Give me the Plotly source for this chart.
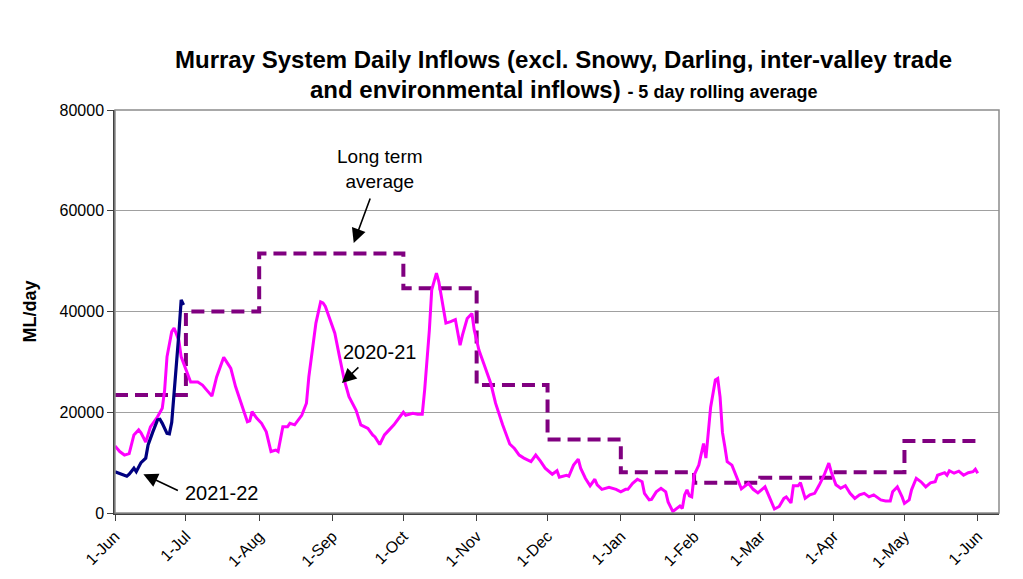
import pandas as pd
import plotly.graph_objects as go

season_start = "2020-06-01"

# 2020-21 five-day rolling average inflows (day offset from 1-Jun, ML/day)
pink_days = [0, 2, 4, 6, 8, 10, 11, 13, 15, 18, 20, 21, 22, 24, 25, 27, 28, 30, 32, 35,
             37, 41, 43, 46, 49, 51, 54, 56, 57, 58, 60, 62, 64, 66, 68, 69, 71, 73, 74, 76,
             79, 81, 82, 85, 87, 88, 89, 91, 93, 95, 97, 99, 102, 104, 107, 109, 110, 112, 114, 116,
             118, 121, 122, 123, 126, 128, 130, 131, 133, 134, 136, 137, 139, 140, 142, 144, 146, 147, 149, 151,
             152, 154, 156, 159, 161, 164, 167, 169, 171, 173, 176, 178, 180, 182, 185, 187, 188, 191, 192, 194,
             196, 197, 199, 201, 203, 204, 206, 209, 212, 214, 216, 217, 219, 221, 223, 224, 226, 227, 229, 231,
             233, 234, 236, 238, 239, 240, 241, 242, 243, 244, 245, 247, 249, 250, 252, 254, 255, 256, 257, 258,
             259, 261, 263, 265, 268, 270, 272, 275, 277, 279, 281, 283, 284, 286, 287, 289, 290, 292, 294, 296,
             298, 300, 302, 303, 305, 307, 309, 311, 313, 315, 317, 319, 321, 324, 326, 328, 329, 331, 333, 334,
             336, 337, 339, 341, 343, 345, 347, 348, 351, 352, 353, 355, 357, 359, 361, 363, 364, 365]
pink_vals = [13300, 12200, 11500, 11800, 15500, 16500, 15900, 14100, 17100, 19100, 20800, 24400, 31000, 36000, 36700, 34300, 31000, 28400, 26000, 26000,
             25400, 23200, 27000, 30900, 28700, 25100, 20800, 18100, 18300, 20100, 18800, 17800, 16100, 12200, 12500, 12200, 17100, 17100, 17800, 17500,
             19400, 21800, 27000, 37700, 41900, 41700, 41000, 38500, 35700, 31000, 26400, 23100, 20400, 17500, 16800, 15500, 15100, 13600, 15500, 16500,
             17500, 19400, 20000, 19400, 19800, 19600, 19600, 24400, 36300, 44300, 47600, 45900, 40300, 37700, 38000, 38400, 33300, 35300, 38600, 39600,
             36300, 32300, 29700, 25700, 21800, 17500, 13700, 12800, 11500, 10900, 10200, 11500, 10300, 8900, 7700, 8400, 7100, 7500, 7300, 9500,
             10700, 8900, 6900, 5400, 6700, 5600, 4700, 5100, 4700, 4200, 4700, 4700, 5900, 6700, 6200, 3900, 2600, 2700, 4200, 4900,
             4200, 2200, 300, 1100, 1400, 900, 3600, 4600, 3400, 3200, 7500, 9500, 13800, 10900, 21000, 26400, 26700, 23000, 16000, 13200,
             10200, 9500, 7000, 4800, 5900, 4700, 4000, 5200, 3000, 800, 1300, 2900, 3200, 2000, 5400, 5400, 6000, 2900, 3600, 3900,
             5600, 7500, 9900, 8200, 5600, 4900, 5400, 3900, 2900, 3600, 3900, 3200, 3600, 2600, 2400, 2400, 4200, 5200, 3200, 1900,
             2600, 4600, 6900, 6200, 5200, 6000, 6200, 7500, 8000, 7500, 8400, 7900, 8300, 7500, 8000, 8200, 8700, 7900]

# 2021-22 five-day rolling average inflows
blue_days = [0, 3, 5, 6, 8, 9, 11, 13, 14, 16, 18, 19, 20, 22, 23, 24, 25, 26, 27, 28, 29]
blue_vals = [8200, 7700, 7300, 7700, 8900, 8200, 10000, 10900, 13500, 16100, 18500, 18600, 17800, 15800, 15700,
             18000, 23500, 29500, 35500, 42300, 41300]

# Long term average (monthly)
lta_dates = ["2020-06-01", "2020-07-01", "2020-08-01", "2020-09-01", "2020-10-01", "2020-11-01",
             "2020-12-01", "2021-01-01", "2021-02-01", "2021-03-01", "2021-04-01", "2021-05-01", "2021-06-01"]
lta_vals = [23400, 40000, 51500, 51500, 44600, 25400, 14600, 8100, 6000, 7000, 8100, 14300, 14300]

y_ticks = [0, 20000, 40000, 60000, 80000]

start = pd.Timestamp(season_start)
pink_x = start + pd.to_timedelta(pink_days, unit="D")
blue_x = start + pd.to_timedelta(blue_days, unit="D")

FONT = "Liberation Sans, Arial, sans-serif"

fig = go.Figure()
fig.add_trace(go.Scatter(x=lta_dates, y=lta_vals, mode="lines", line_shape="hv",
                         line=dict(color="#800080", width=4, dash="13px,7px"),
                         name="Long term average", showlegend=False))
fig.add_trace(go.Scatter(x=pink_x, y=pink_vals, mode="lines",
                         line=dict(color="#FF00FF", width=3), name="2020-21", showlegend=False))
fig.add_trace(go.Scatter(x=blue_x, y=blue_vals, mode="lines",
                         line=dict(color="#000080", width=3.2), name="2021-22", showlegend=False))

annotations = [
    dict(xref="paper", yref="paper", x=0.507, y=1.163, showarrow=False,
         text="<b>Murray System Daily Inflows (excl. Snowy, Darling, inter-valley trade</b>",
         font=dict(size=24, color="black", family=FONT)),
    dict(xref="paper", yref="paper", x=0.507, y=1.09, showarrow=False,
         text="<b>and environmental inflows) <span style='font-size:18px'>- 5 day rolling average</span></b>",
         font=dict(size=24, color="black", family=FONT)),
    dict(x="2020-09-21", y=68300, text="Long term<br>average", showarrow=False,
         font=dict(size=19, color="black", family=FONT)),
    dict(x="2020-09-10", y=53600, text="", showarrow=True, ax=17, ay=-46,
         arrowhead=2, arrowsize=1.8, arrowwidth=1.6, arrowcolor="black"),
    dict(x="2020-09-21", y=32000, text="2020-21", showarrow=False,
         font=dict(size=20, color="black", family=FONT)),
    dict(x="2020-09-05", y=25800, text="", showarrow=True, ax=18, ay=-17,
         arrowhead=2, arrowsize=1.8, arrowwidth=1.6, arrowcolor="black"),
    dict(x="2020-07-16", y=4000, text="2021-22", showarrow=False,
         font=dict(size=20, color="black", family=FONT)),
    dict(x="2020-06-13", y=7700, text="", showarrow=True, ax=36, ay=17,
         arrowhead=2, arrowsize=1.8, arrowwidth=1.6, arrowcolor="black"),
]

# page body has an 8px margin, so the figure is sized and padded to land the plot area in place
fig.update_layout(
    width=1007, height=563,
    margin=dict(l=107, r=16, t=102, b=58),
    paper_bgcolor="white", plot_bgcolor="white",
    font=dict(family=FONT, color="black"),
    annotations=annotations,
    shapes=[dict(type="rect", xref="paper", yref="paper", x0=0, y0=0, x1=1, y1=1,
                 line=dict(color="#8c8c8c", width=1.5), layer="above")],
)
fig.update_xaxes(type="date", range=["2020-06-01", "2021-06-10"], tick0="2020-06-01", dtick="M1",
                 tickformat="%-d-%b", tickangle=-45, tickfont=dict(size=16, color="black"),
                 showgrid=False, showline=True, linecolor="#404040", linewidth=1.5,
                 ticks="outside", ticklen=6, tickcolor="#404040", zeroline=False, automargin=False)
fig.update_yaxes(range=[0, 80000], tickvals=y_ticks, tickformat="d",
                 tickfont=dict(size=16, color="black"),
                 showgrid=True, gridcolor="#a0a0a0", gridwidth=1,
                 showline=True, linecolor="#404040", linewidth=1.5,
                 ticks="outside", ticklen=6, tickcolor="#404040", zeroline=False, automargin=False,
                 title=dict(text="<b>ML/day</b>", font=dict(size=18, color="black"), standoff=18))

fig.write_html("out.html")
